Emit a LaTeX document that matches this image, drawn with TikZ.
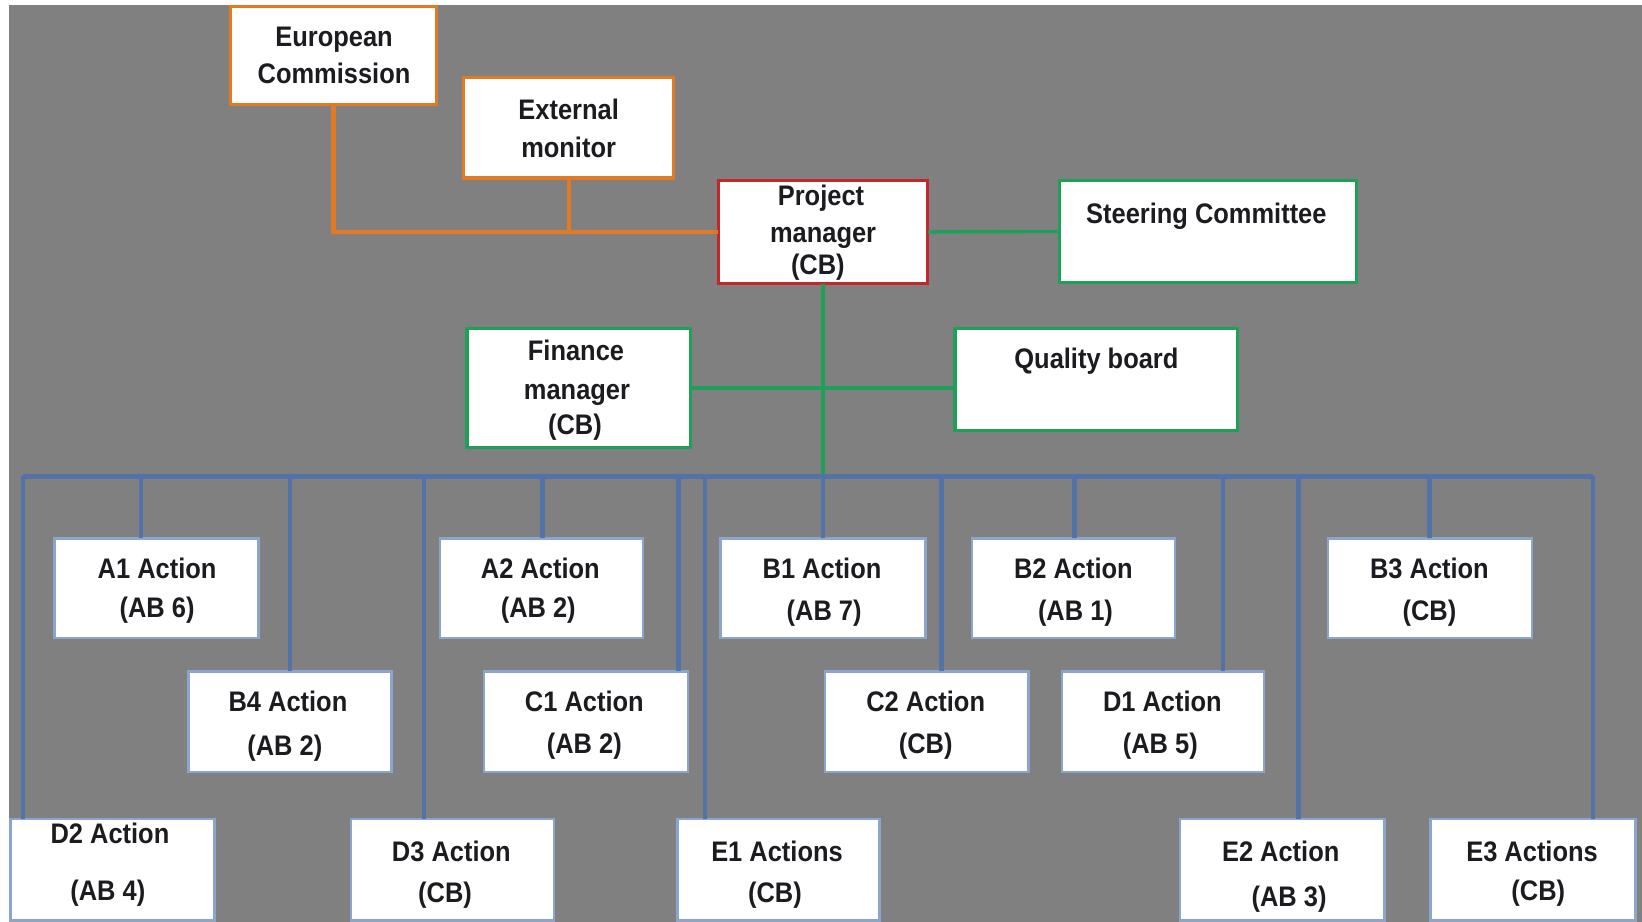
\documentclass[tikz,border=0pt]{standalone}
\usepackage{fontspec}
\setmainfont{Liberation Sans}[FakeStretch=0.9]
\usetikzlibrary{fit}
\definecolor{bg}{RGB}{128,128,128}
\definecolor{orgc}{RGB}{226,122,36}
\definecolor{redc}{RGB}{196,38,44}
\definecolor{grnc}{RGB}{30,160,88}
\definecolor{bluc}{RGB}{82,114,168}
\definecolor{abox}{RGB}{140,165,205}
\definecolor{txt}{RGB}{28,28,32}
\newcommand\bx[6]{\node[#1, fit={(#3,#4)(#5,#6)}] (#2) {};}
\begin{document}
\begin{tikzpicture}[x=0.5pt,y=-0.5pt,
  box/.style={draw, fill=white, inner sep=0pt, outer sep=0pt, line width=1.5pt},
  obox/.style={box, draw=orgc},
  rbox/.style={box, draw=redc},
  gbox/.style={box, draw=grnc},
  actbox/.style={box, draw=abox, line width=1.2pt},
  lbl/.style={font=\bfseries\fontsize{13.5}{16}\selectfont, text=txt, inner sep=0pt, anchor=mid, yshift=-2pt},
  oline/.style={draw=orgc, line width=2pt},
  gline/.style={draw=grnc, line width=1.6pt},
  bline/.style={draw=bluc, line width=2pt}]
\useasboundingbox (0,0) rectangle (1568,880);
\fill[white] (0,0) rectangle (1568,880);
\fill[bg] (9,5) rectangle (1568,880);

% bus coordinates
\coordinate (busL) at (22,455);
\coordinate (busR) at (1521,455);
\foreach \n/\x in {dD2/22,dA1/135,dB4/277,dD3/405,dA2/518,dC1/648,dE1/673,dB1/786,dC2/899,dB2/1026,dD1/1168,dE2/1240,dB3/1365,dE3/1521}
  {\coordinate (\n) at (\x,455);}

% boxes
\bx{obox}{ec}{220}{6}{417}{100}
\bx{obox}{em}{443}{74}{643}{170}
\bx{rbox}{pm}{686}{172}{886}{271}
\bx{gbox}{sc}{1012}{172}{1295}{270}
\bx{gbox}{fm}{446}{314}{659}{427}
\bx{gbox}{qb}{912}{314}{1182}{411}

% connectors (top)
\draw[oline] (ec.south) |- (pm.west);
\draw[oline] (em.south) -- (em.south |- pm.west);
\draw[gline] (pm.east) -- (sc.west);
\draw[gline] (pm.south) -- (pm.south |- busL);
\draw[gline] (fm.east) -- (fm.east -| qb.west);

% action boxes
\bx{actbox}{a1}{52}{514}{247}{609}
\bx{actbox}{a2}{420}{514}{614}{609}
\bx{actbox}{b1}{688}{514}{884}{609}
\bx{actbox}{b2}{928}{514}{1122}{609}
\bx{actbox}{b3}{1268}{514}{1463}{609}
\bx{actbox}{b4}{180}{641}{374}{737}
\bx{actbox}{c1}{462}{641}{657}{737}
\bx{actbox}{c2}{788}{641}{982}{737}
\bx{actbox}{d1}{1014}{641}{1207}{737}
\bx{actbox}{d2}{10}{782}{205}{879}
\bx{actbox}{d3}{335}{782}{529}{879}
\bx{actbox}{e1}{647}{782}{840}{879}
\bx{actbox}{e2}{1127}{782}{1322}{879}
\bx{actbox}{e3}{1366}{782}{1562}{879}

% blue bus and drops
\draw[bline] (busL) -- (busR);
\foreach \c/\b in {dD2/d2,dA1/a1,dB4/b4,dD3/d3,dA2/a2,dC1/c1,dE1/e1,dB1/b1,dC2/c2,dB2/b2,dD1/d1,dE2/e2,dB3/b3,dE3/e3}
  {\draw[bline] (\c) -- (\c |- \b.north);}

% texts
\node[lbl] (t-ec1) at (319,35) {European};
\node[lbl] (t-ec2) at (319,70) {Commission};
\node[lbl] (t-em1) at (543,105) {External};
\node[lbl] (t-em2) at (543,141) {monitor};
\node[lbl] (t-pm1) at (784,187) {Project};
\node[lbl] (t-pm2) at (786,222) {manager};
\node[lbl] (t-pm3) at (781,253) {(CB)};
\node[lbl] (t-sc) at (1152,204) {Steering Committee};
\node[lbl] (t-fm1) at (550,335) {Finance};
\node[lbl] (t-fm2) at (551,372) {manager};
\node[lbl] (t-fm3) at (549,406) {(CB)};
\node[lbl] (t-qb) at (1047,343) {Quality board};

\node[lbl] (t-a1a) at (150,543) {A1 Action};
\node[lbl] (t-a1b) at (150,580) {(AB 6)};
\node[lbl] (t-a2a) at (516,543) {A2 Action};
\node[lbl] (t-a2b) at (514,580) {(AB 2)};
\node[lbl] (t-b1a) at (785,543) {B1 Action};
\node[lbl] (t-b1b) at (787,583) {(AB 7)};
\node[lbl] (t-b2a) at (1025,543) {B2 Action};
\node[lbl] (t-b2b) at (1027,583) {(AB 1)};
\node[lbl] (t-b3a) at (1365,543) {B3 Action};
\node[lbl] (t-b3b) at (1365,583) {(CB)};
\node[lbl] (t-b4a) at (275,670) {B4 Action};
\node[lbl] (t-b4b) at (272,712) {(AB 2)};
\node[lbl] (t-c1a) at (558,670) {C1 Action};
\node[lbl] (t-c1b) at (558,710) {(AB 2)};
\node[lbl] (t-c2a) at (884,670) {C2 Action};
\node[lbl] (t-c2b) at (884,710) {(CB)};
\node[lbl] (t-d1a) at (1110,670) {D1 Action};
\node[lbl] (t-d1b) at (1108,710) {(AB 5)};
\node[lbl] (t-d2a) at (105,796) {D2 Action};
\node[lbl] (t-d2b) at (103,851) {(AB 4)};
\node[lbl] (t-d3a) at (431,813) {D3 Action};
\node[lbl] (t-d3b) at (425,853) {(CB)};
\node[lbl] (t-e1a) at (742,813) {E1 Actions};
\node[lbl] (t-e1b) at (740,853) {(CB)};
\node[lbl] (t-e2a) at (1223,813) {E2 Action};
\node[lbl] (t-e2b) at (1231,856) {(AB 3)};
\node[lbl] (t-e3a) at (1463,813) {E3 Actions};
\node[lbl] (t-e3b) at (1469,851) {(CB)};
\end{tikzpicture}
\end{document}
